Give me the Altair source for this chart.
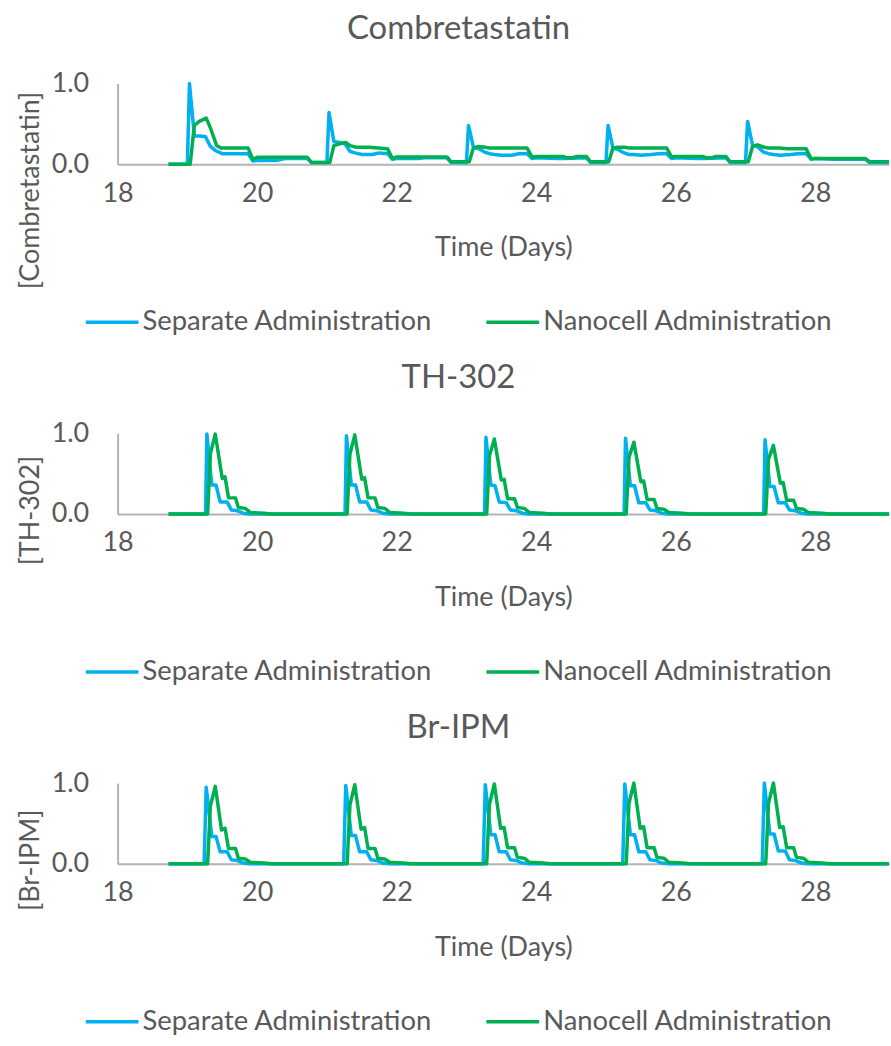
import altair as alt
import pandas as pd

DOSE_DAYS = [19, 21, 23, 25, 27]
START_DAY = 18.73
END_DAY = 29.057
X_TICKS = [18, 20, 22, 24, 26, 28]
SERIES = ["Separate Administration", "Nanocell Administration"]
COLORS = ["#00B0F0", "#00B050"]

# ---- Combretastatin (time offsets after each dose day, values per dose cycle)
CB_SEP_OFFSETS = [0.00, 0.03, 0.10, 0.18, 0.26, 0.33, 0.40, 0.50, 0.65, 0.75, 0.87, 0.94, 1.00, 1.30, 1.40, 1.72, 1.78]
CB_SEP_VALUES = [
    [0.00, 1.00, 0.35, 0.35, 0.34, 0.22, 0.17, 0.13, 0.13, 0.13, 0.13, 0.04, 0.045, 0.05, 0.07, 0.07, 0.02],
    [0.02, 0.64, 0.28, 0.27, 0.25, 0.16, 0.14, 0.12, 0.12, 0.14, 0.13, 0.06, 0.07, 0.07, 0.08, 0.08, 0.02],
    [0.02, 0.48, 0.21, 0.19, 0.15, 0.13, 0.12, 0.11, 0.11, 0.13, 0.13, 0.07, 0.08, 0.07, 0.07, 0.08, 0.02],
    [0.02, 0.48, 0.20, 0.18, 0.14, 0.12, 0.12, 0.11, 0.12, 0.13, 0.13, 0.07, 0.08, 0.07, 0.07, 0.08, 0.02],
    [0.02, 0.53, 0.24, 0.21, 0.15, 0.13, 0.12, 0.11, 0.12, 0.13, 0.13, 0.06, 0.07, 0.06, 0.06, 0.06, 0.02],
]
CB_NANO_OFFSETS = [0.00, 0.04, 0.10, 0.17, 0.27, 0.33, 0.42, 0.48, 0.60, 0.87, 0.94, 1.00, 1.38, 1.44, 1.52, 1.58, 1.72, 1.78]
CB_NANO_VALUES = [
    [0.00, 0.00, 0.48, 0.53, 0.57, 0.45, 0.23, 0.20, 0.20, 0.20, 0.06, 0.085, 0.085, 0.085, 0.085, 0.085, 0.085, 0.02],
    [0.02, 0.02, 0.23, 0.25, 0.27, 0.23, 0.21, 0.21, 0.21, 0.19, 0.07, 0.09, 0.09, 0.09, 0.09, 0.09, 0.09, 0.03],
    [0.03, 0.03, 0.20, 0.22, 0.21, 0.20, 0.20, 0.20, 0.20, 0.20, 0.09, 0.095, 0.095, 0.08, 0.08, 0.095, 0.095, 0.03],
    [0.03, 0.03, 0.20, 0.21, 0.21, 0.20, 0.20, 0.20, 0.20, 0.20, 0.09, 0.095, 0.095, 0.08, 0.08, 0.095, 0.095, 0.03],
    [0.03, 0.03, 0.22, 0.24, 0.21, 0.20, 0.20, 0.20, 0.19, 0.19, 0.07, 0.07, 0.07, 0.07, 0.07, 0.07, 0.07, 0.03],
]
CB_END = [0.02, 0.03]

# ---- TH-302
TH_SEP_OFFSETS = [0.00, 0.26, 0.28, 0.35, 0.41, 0.47, 0.57, 0.63, 0.72, 0.80, 0.90]
TH_SEP_VALUES = [
    [0, 0, 0.99, 0.36, 0.36, 0.15, 0.15, 0.05, 0.04, 0.01, 0],
    [0, 0, 0.97, 0.36, 0.36, 0.15, 0.15, 0.05, 0.04, 0.01, 0],
    [0, 0, 0.95, 0.36, 0.35, 0.15, 0.14, 0.05, 0.04, 0.01, 0],
    [0, 0, 0.94, 0.35, 0.35, 0.14, 0.14, 0.05, 0.04, 0.01, 0],
    [0, 0, 0.92, 0.34, 0.34, 0.14, 0.14, 0.05, 0.04, 0.01, 0],
]
TH_NANO_OFFSETS = [0.00, 0.29, 0.33, 0.40, 0.50, 0.54, 0.59, 0.69, 0.73, 0.83, 0.90, 1.10, 1.20]
TH_NANO_VALUES = [
    [0, 0, 0.75, 0.99, 0.44, 0.46, 0.20, 0.20, 0.08, 0.07, 0.02, 0.01, 0],
    [0, 0, 0.74, 0.98, 0.43, 0.45, 0.20, 0.20, 0.08, 0.07, 0.02, 0.01, 0],
    [0, 0, 0.72, 0.93, 0.42, 0.43, 0.19, 0.19, 0.08, 0.07, 0.02, 0.01, 0],
    [0, 0, 0.70, 0.89, 0.40, 0.41, 0.18, 0.18, 0.07, 0.06, 0.02, 0.01, 0],
    [0, 0, 0.68, 0.85, 0.38, 0.39, 0.17, 0.17, 0.07, 0.06, 0.02, 0.01, 0],
]
TH_END = [0, 0]

# ---- Br-IPM
BR_SEP_OFFSETS = [0.00, 0.24, 0.27, 0.35, 0.41, 0.47, 0.57, 0.63, 0.72, 0.80, 0.90]
BR_SEP_VALUES = [
    [0, 0, 0.95, 0.34, 0.34, 0.15, 0.15, 0.05, 0.04, 0.01, 0],
    [0, 0, 0.97, 0.35, 0.35, 0.15, 0.15, 0.05, 0.04, 0.01, 0],
    [0, 0, 0.98, 0.36, 0.36, 0.15, 0.15, 0.05, 0.04, 0.01, 0],
    [0, 0, 0.99, 0.36, 0.36, 0.15, 0.15, 0.05, 0.04, 0.01, 0],
    [0, 0, 1.00, 0.37, 0.37, 0.16, 0.16, 0.05, 0.04, 0.01, 0],
]
BR_NANO_OFFSETS = [0.00, 0.29, 0.33, 0.40, 0.49, 0.54, 0.59, 0.69, 0.73, 0.83, 0.90, 1.10, 1.20]
BR_NANO_VALUES = [
    [0, 0, 0.72, 0.96, 0.42, 0.44, 0.19, 0.19, 0.07, 0.06, 0.02, 0.01, 0],
    [0, 0, 0.73, 0.98, 0.43, 0.45, 0.19, 0.19, 0.07, 0.06, 0.02, 0.01, 0],
    [0, 0, 0.74, 0.99, 0.44, 0.45, 0.20, 0.20, 0.08, 0.07, 0.02, 0.01, 0],
    [0, 0, 0.75, 1.00, 0.44, 0.46, 0.20, 0.20, 0.08, 0.07, 0.02, 0.01, 0],
    [0, 0, 0.75, 1.00, 0.45, 0.46, 0.20, 0.20, 0.08, 0.07, 0.02, 0.01, 0],
]
BR_END = [0, 0]

TEXT = "#595959"
FONT = "Lato"


def series_rows(name, offsets, cycles, end_value):
    rows = [{"day": START_DAY, "value": cycles[0][0], "series": name}]
    for d, vals in zip(DOSE_DAYS, cycles):
        for o, v in zip(offsets, vals):
            rows.append({"day": d + o, "value": v, "series": name})
    rows.append({"day": END_DAY, "value": end_value, "series": name})
    return rows


def panel(title, ytitle, sep, nano, ends, title_y):
    df = pd.DataFrame(
        series_rows(SERIES[0], sep[0], sep[1], ends[0])
        + series_rows(SERIES[1], nano[0], nano[1], ends[1])
    )
    return alt.Chart(df, title=alt.TitleParams(
        title, fontSize=33, font=FONT, color=TEXT, fontWeight="normal",
        anchor="middle", dx=-45, offset=24,
    )).mark_line(strokeWidth=3.5, strokeJoin="round").encode(
        x=alt.X("day:Q",
                scale=alt.Scale(domain=[18, END_DAY], nice=False, zero=False),
                axis=alt.Axis(values=X_TICKS, title="Time (Days)", labelPadding=16,
                              labelFlush=False,
                              titleY=92, titleBaseline="alphabetic")),
        y=alt.Y("value:Q",
                scale=alt.Scale(domain=[0, 1], nice=False),
                axis=alt.Axis(values=[0, 1], format=".1f", title=ytitle,
                              labelPadding=29, labelFlush=False,
                              titleX=-79, titleY=title_y,
                              titleAlign="center", titleBaseline="alphabetic")),
        color=alt.Color("series:N",
                        scale=alt.Scale(domain=SERIES, range=COLORS),
                        legend=alt.Legend(orient="none", legendX=-34, legendY=211,
                                          direction="horizontal", title=None,
                                          symbolType="stroke", symbolStrokeWidth=3.5,
                                          symbolSize=2800, labelFontSize=27.5,
                                          labelFont=FONT, labelColor=TEXT,
                                          labelOffset=2, columnPadding=47,
                                          labelLimit=0)),
    ).properties(width=774, height=81)


p1 = panel("Combretastatin", "[Combretastatin]",
           (CB_SEP_OFFSETS, CB_SEP_VALUES), (CB_NANO_OFFSETS, CB_NANO_VALUES), CB_END, 107)
p2 = panel("TH-302", "[TH-302]",
           (TH_SEP_OFFSETS, TH_SEP_VALUES), (TH_NANO_OFFSETS, TH_NANO_VALUES), TH_END, 77)
p3 = panel("Br-IPM", "[Br-IPM]",
           (BR_SEP_OFFSETS, BR_SEP_VALUES), (BR_NANO_OFFSETS, BR_NANO_VALUES), BR_END, 77)

chart = alt.vconcat(p1, p2, p3, spacing=27).resolve_scale(
    color="independent"
).resolve_legend(color="independent").properties(
    padding={"left": 16, "top": 11, "right": 0, "bottom": 0},
    background="white",
).configure_view(stroke=None).configure_axis(
    grid=False, ticks=False, tickSize=0,
    domainColor="#B3B3B3", domainWidth=2,
    labelFont=FONT, labelFontSize=27, labelColor=TEXT,
    titleFont=FONT, titleFontSize=27, titleColor=TEXT, titleFontWeight="normal",
)

chart.save("out.html", embed_options={"renderer": "svg", "actions": False})
